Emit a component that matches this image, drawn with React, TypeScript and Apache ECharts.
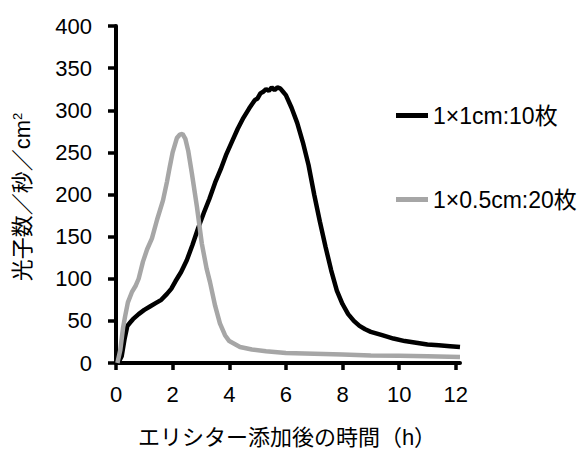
import React, { useEffect, useRef } from "react";
import * as echarts from "echarts";

const seriesNames = ["1×1cm:10枚", "1×0.5cm:20枚"];
const seriesColors = ["#000000", "#a6a6a6"];

// [hours, photons / s / cm²]
const blackData: [number, number][] = [
  [0.08, 0], [0.2, 8], [0.3, 28], [0.4, 44], [0.5, 48], [0.6, 52], [0.8, 58], [1.0, 63],
  [1.2, 67], [1.4, 71], [1.6, 75], [1.8, 82], [1.95, 88], [2.1, 97], [2.3, 108], [2.5, 122],
  [2.7, 140], [2.9, 160], [3.1, 178], [3.3, 195], [3.5, 214], [3.7, 230], [3.9, 248],
  [4.1, 263], [4.3, 278], [4.5, 291], [4.7, 302], [4.9, 312], [5.0, 314], [5.1, 320],
  [5.2, 322], [5.3, 325], [5.4, 323], [5.5, 327], [5.6, 324], [5.7, 327], [5.8, 326],
  [5.9, 322], [6.0, 318], [6.2, 303], [6.4, 285], [6.6, 262], [6.8, 235], [7.0, 200],
  [7.2, 168], [7.4, 138], [7.6, 110], [7.8, 86], [8.0, 70], [8.2, 58], [8.4, 50], [8.6, 44],
  [8.8, 40], [9.0, 37], [9.4, 33], [9.8, 29], [10.2, 26], [10.6, 24], [11.0, 22], [11.4, 21],
  [11.8, 20], [12.15, 19],
];

const grayData: [number, number][] = [
  [0.05, 0], [0.15, 15], [0.25, 42], [0.32, 55], [0.42, 72], [0.56, 84], [0.7, 92], [0.8, 100],
  [0.95, 120], [1.1, 135], [1.27, 148], [1.45, 170], [1.66, 193], [1.8, 215], [1.9, 233],
  [2.0, 250], [2.15, 267], [2.25, 271], [2.35, 272], [2.45, 266], [2.55, 252], [2.68, 225],
  [2.86, 185], [3.03, 142], [3.2, 112], [3.32, 96], [3.5, 68], [3.67, 47], [3.85, 33],
  [4.0, 26], [4.38, 19], [4.8, 16], [5.3, 14], [6.0, 12], [7.0, 11], [8.0, 10], [9.0, 9],
  [10.0, 8.5], [11.0, 8], [12.15, 7],
];

const xTicks = [0, 2, 4, 6, 8, 10, 12];
const yTicks = [0, 50, 100, 150, 200, 250, 300, 350, 400];
const xTitle = "エリシター添加後の時間（h）";
const yTitle = "光子数／秒／cm";
const yTitleSup = "2";

const FONT = "'Liberation Sans', Arial, 'Noto Sans CJK JP', sans-serif";

export default function App() {
  const ref = useRef<HTMLDivElement>(null);
  useEffect(() => {
    if (!ref.current) return;
    const chart = echarts.init(ref.current, null, { renderer: "svg" });
    chart.setOption({
      animation: false,
      backgroundColor: "#ffffff",
      textStyle: { fontFamily: FONT },
      grid: { left: 116, right: 124, top: 26, bottom: 87, containLabel: false, outerBoundsMode: "none" },
      legend: {
        orient: "vertical",
        left: 396,
        top: 104,
        padding: 0,
        itemGap: 61,
        itemWidth: 32,
        itemHeight: 5,
        icon: "rect",
        textStyle: { fontSize: 23, color: "#000", fontFamily: FONT },
        data: seriesNames,
      },
      xAxis: {
        type: "value",
        min: 0,
        max: 12.15,
        interval: 2,
        splitLine: { show: false },
        axisLine: { show: true, lineStyle: { color: "#000", width: 4 } },
        axisTick: { show: true, length: 7, lineStyle: { color: "#000", width: 3.5 }, customValues: xTicks },
        axisLabel: { fontSize: 22, color: "#000", margin: 20, fontFamily: FONT, customValues: xTicks },
      },
      yAxis: {
        type: "value",
        min: 0,
        max: 400,
        interval: 50,
        splitLine: { show: false },
        axisLine: { show: true, lineStyle: { color: "#000", width: 4 } },
        axisTick: { show: true, length: 8, lineStyle: { color: "#000", width: 3.5 }, customValues: yTicks },
        axisLabel: { fontSize: 22, color: "#000", margin: 24, fontFamily: FONT, customValues: yTicks },
      },
      graphic: [
        {
          type: "text",
          x: 287,
          y: 437,
          style: {
            text: xTitle,
            fontSize: 22,
            fontFamily: FONT,
            fill: "#000",
            align: "center",
            verticalAlign: "middle",
          },
        },
        {
          type: "text",
          x: 22,
          y: 197,
          rotation: Math.PI / 2,
          style: {
            text: `{a|${yTitle}}{b|${yTitleSup}}`,
            align: "center",
            verticalAlign: "middle",
            fill: "#000",
            rich: {
              a: { fontSize: 22, fontFamily: FONT, fill: "#000", verticalAlign: "bottom" },
              b: { fontSize: 13, fontFamily: FONT, fill: "#000", verticalAlign: "top" },
            },
          },
        },
      ],
      series: [
        {
          name: seriesNames[0],
          type: "line",
          data: blackData,
          showSymbol: false,
          color: seriesColors[0],
          lineStyle: { color: seriesColors[0], width: 4.5 },
          itemStyle: { color: seriesColors[0] },
        },
        {
          name: seriesNames[1],
          type: "line",
          data: grayData,
          showSymbol: false,
          color: seriesColors[1],
          lineStyle: { color: seriesColors[1], width: 4.5 },
          itemStyle: { color: seriesColors[1] },
        },
      ],
    });
    return () => chart.dispose();
  }, []);
  return (
    <div
      ref={ref}
      style={{ position: "fixed", left: 0, top: 0, width: 584, height: 450, background: "#fff" }}
    />
  );
}
